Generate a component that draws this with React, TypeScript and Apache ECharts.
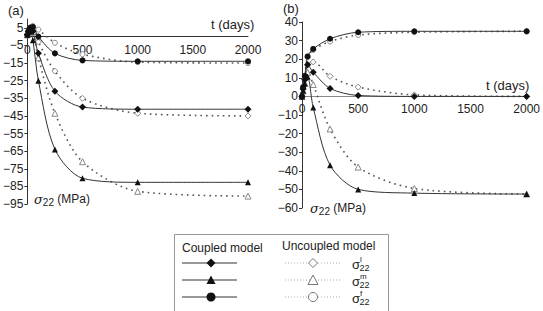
import React, { useEffect, useRef } from "react";
import * as echarts from "echarts";

const times = [0, 10, 25, 50, 100, 250, 500, 1000, 2000];

// Panel (a)
const aCoupledL = [1, 3, 5, 3, -9.5, -31, -40, -41.2, -41.2];
const aCoupledM = [1, 3, 3, -2, -25, -64, -80.4, -82.7, -82.7];
const aCoupledF = [1, 3, 5, 5.5, 0, -9.5, -13.5, -14, -14];
const aUncoupledL = [1, 3, 5, 5, -3, -19.6, -35, -43.5, -45];
const aUncoupledM = [1, 3, 4, 3, -12, -43.5, -71, -87.8, -90.5];
const aUncoupledF = [1, 3, 5, 6, 4, -3.5, -10, -14.5, -15];

// Panel (b)
const bCoupledL = [0, 4, 9, 17, 13, 4.3, 0.5, 0, 0];
const bCoupledM = [0, 3, 7, 10.5, -6, -37, -50, -52, -52.5];
const bCoupledF = [0, 5, 11, 21.5, 25.5, 31, 34.5, 35, 35];
const bUncoupledL = [0, 4, 9, 17, 18.5, 10.8, 5, 0.8, 0];
const bUncoupledM = [0, 3, 7, 13, 6.4, -17.5, -38, -49.5, -52.5];
const bUncoupledF = [0, 5, 11, 21, 25, 29.5, 33, 34.5, 35];

const FONT = "Liberation Sans, Arial, sans-serif";
const TXT = "#222";

const pairs = (vals: number[]) => times.map((t, i) => [t, vals[i]]);
const minusFmt = (v: number) => String(v).replace("-", "−");

function coupled(vals: number[], symbol: string, idx: number, size: number) {
  return {
    type: "line",
    xAxisIndex: idx,
    yAxisIndex: idx,
    data: pairs(vals),
    smooth: 0.3,
    symbol,
    symbolSize: size,
    showAllSymbol: true,
    lineStyle: { color: "#333", width: 1 },
    itemStyle: { color: "#111", borderWidth: 0 },
    z: 3,
  };
}

function uncoupled(vals: number[], symbol: string, idx: number, size: number) {
  return {
    type: "line",
    xAxisIndex: idx,
    yAxisIndex: idx,
    data: pairs(vals),
    smooth: 0.3,
    symbol,
    symbolSize: size,
    showAllSymbol: true,
    lineStyle: { color: "#555", width: 1.6, type: [1.6, 4] },
    itemStyle: { color: "#fff", borderColor: "#888", borderWidth: 1 },
    z: 2,
  };
}

function xAxis(idx: number, offset: number) {
  return {
    type: "value",
    gridIndex: idx,
    min: 0,
    max: 2000,
    interval: 500,
    position: "bottom",
    offset,
    axisLine: { onZero: false, lineStyle: { color: idx === 0 ? "#333" : "#888", width: 1 } },
    axisTick: { show: false },
    splitLine: { show: false },
    axisLabel: {
      color: TXT,
      fontFamily: FONT,
      fontSize: 12,
      margin: 7,
      formatter: (v: number) => String(v),
    },
  };
}

function yAxis(idx: number, min: number, max: number) {
  return {
    type: "value",
    gridIndex: idx,
    min,
    max,
    interval: 10,
    axisLine: { show: true, onZero: false, lineStyle: { color: "#333", width: 1 } },
    axisTick: { show: true, length: 3, lineStyle: { color: "#333" } },
    splitLine: { show: false },
    axisLabel: {
      color: TXT,
      fontFamily: FONT,
      fontSize: 12,
      margin: 4,
      showMaxLabel: idx === 0 ? false : true,
      formatter: minusFmt,
    },
  };
}

function sigmaTitle(x: number, y: number) {
  return {
    type: "text",
    x,
    y,
    style: {
      text: "{s|σ}{sub|22} (MPa)",
      fill: TXT,
      font: `12px ${FONT}`,
      verticalAlign: "middle",
      rich: {
        s: { fontFamily: "DejaVu Serif", fontStyle: "italic", fontSize: 13, fill: TXT },
        sub: { fontFamily: FONT, fontSize: 10, fill: TXT, padding: [6, 0, 0, 0] },
      },
    },
  };
}

function legendLabel(x: number, y: number, sup: string) {
  return [
    { type: "text", x, y: y, style: { text: "σ", font: `13px ${FONT}`, fill: TXT, verticalAlign: "middle" } },
    { type: "text", x: x + 8, y: y - 5, style: { text: sup, font: `8px ${FONT}`, fill: TXT, verticalAlign: "middle" } },
    { type: "text", x: x + 7.5, y: y + 3.5, style: { text: "22", font: `9px ${FONT}`, fill: TXT, verticalAlign: "middle" } },
  ];
}

export default function App() {
  const ref = useRef<HTMLDivElement>(null);
  useEffect(() => {
    if (!ref.current) return;
    const chart = echarts.init(ref.current, undefined, { renderer: "svg" });
    const rows = [263, 280, 297];
    const filledStyle = { fill: "#111" };
    const openStyle = { fill: "#fff", stroke: "#777", lineWidth: 1 };
    const graphic: any[] = [
      { type: "text", x: 8, y: 10, style: { text: "(a)", font: `13px ${FONT}`, fill: TXT, verticalAlign: "middle" } },
      { type: "text", x: 283, y: 8, style: { text: "(b)", font: `13px ${FONT}`, fill: TXT, verticalAlign: "middle" } },
      { type: "text", x: 211, y: 24, style: { text: "t (days)", font: `13px ${FONT}`, fill: TXT, verticalAlign: "middle" } },
      { type: "text", x: 486, y: 85, style: { text: "t (days)", font: `13px ${FONT}`, fill: TXT, verticalAlign: "middle" } },
      sigmaTitle(34, 199),
      sigmaTitle(310, 208),
      {
        type: "rect",
        shape: { x: 174.5, y: 234.5, width: 214, height: 100 },
        style: { fill: "none", stroke: "#999", lineWidth: 1 },
      },
      { type: "text", x: 182, y: 248, style: { text: "Coupled model", font: `12px ${FONT}`, fill: TXT, verticalAlign: "middle" } },
      { type: "text", x: 282, y: 246, style: { text: "Uncoupled model", font: `12px ${FONT}`, fill: TXT, verticalAlign: "middle" } },
    ];
    rows.forEach((ry) => {
      graphic.push({ type: "line", shape: { x1: 182, y1: ry, x2: 237, y2: ry }, style: { stroke: "#333", lineWidth: 1 } });
      graphic.push({ type: "line", shape: { x1: 285, y1: ry, x2: 341, y2: ry }, style: { stroke: "#aaa", lineWidth: 1, lineDash: [1, 2] } });
    });
    graphic.push(
      { type: "polygon", shape: { points: [[211, 258.5], [215.5, 263], [211, 267.5], [206.5, 263]] }, style: filledStyle, z: 10 },
      { type: "polygon", shape: { points: [[211, 275.5], [215.5, 284], [206.5, 284]] }, style: filledStyle, z: 10 },
      { type: "circle", shape: { cx: 211, cy: 297, r: 4.5 }, style: filledStyle, z: 10 },
      { type: "polygon", shape: { points: [[313, 258.5], [317.5, 263], [313, 267.5], [308.5, 263]] }, style: openStyle, z: 10 },
      { type: "polygon", shape: { points: [[313, 275], [318, 284.5], [308, 284.5]] }, style: openStyle, z: 10 },
      { type: "circle", shape: { cx: 313, cy: 297, r: 4.5 }, style: openStyle, z: 10 },
      ...legendLabel(352, 264, "l"),
      ...legendLabel(352, 281, "m"),
      ...legendLabel(352, 298, "f")
    );

    const aZeroOffset = -(185 * 95) / 105;
    const bZeroOffset = -(186 * 60) / 100;

    chart.setOption({
      animation: false,
      backgroundColor: "#fff",
      grid: [
        { left: 26, top: 19, width: 222, height: 185 },
        { left: 302, top: 22, width: 226, height: 186 },
      ],
      xAxis: [xAxis(0, aZeroOffset), xAxis(1, bZeroOffset)],
      yAxis: [yAxis(0, -95, 10), yAxis(1, -60, 40)],
      series: [
        uncoupled(aUncoupledL, "diamond", 0, 6),
        uncoupled(aUncoupledM, "triangle", 0, 6),
        uncoupled(aUncoupledF, "circle", 0, 5),
        coupled(aCoupledL, "diamond", 0, 7),
        coupled(aCoupledM, "triangle", 0, 6),
        coupled(aCoupledF, "circle", 0, 6),
        uncoupled(bUncoupledL, "diamond", 1, 6),
        uncoupled(bUncoupledM, "triangle", 1, 6),
        uncoupled(bUncoupledF, "circle", 1, 5),
        coupled(bCoupledL, "diamond", 1, 7),
        coupled(bCoupledM, "triangle", 1, 6),
        coupled(bCoupledF, "circle", 1, 6),
      ],
      graphic,
    });
    return () => chart.dispose();
  }, []);
  return (
    <div
      ref={ref}
      style={{ position: "fixed", left: 0, top: 0, width: 543, height: 311, background: "#fff" }}
    />
  );
}
